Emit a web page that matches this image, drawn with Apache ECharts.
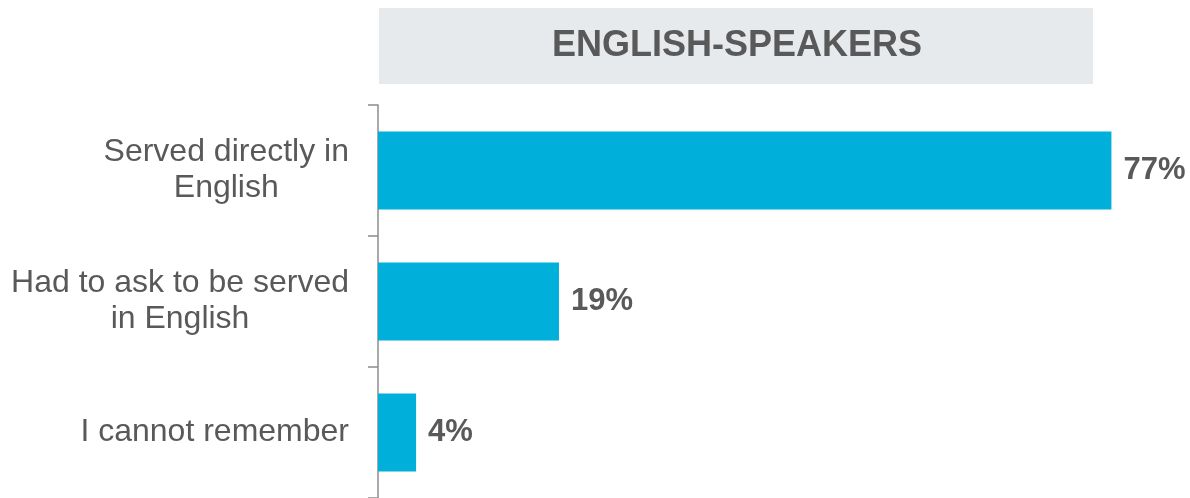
<!DOCTYPE html>
<html>
<head>
<meta charset="utf-8">
<script src="https://cdn.jsdelivr.net/npm/echarts@6/dist/echarts.min.js"></script>
<style>
  html, body { margin: 0; padding: 0; background: #fff; }
  #chart { width: 1190px; height: 498px; }
</style>
</head>
<body>
<div id="chart"></div>
<script>
const TITLE = 'ENGLISH-SPEAKERS';
const categories = ['Served directly in\nEnglish', 'Had to ask to be served\nin English', 'I cannot remember'];
const values = [77, 19, 4];

const FONT = '"Liberation Sans", Arial, sans-serif';
const GREY = '#595959';

const chart = echarts.init(document.getElementById('chart'));

chart.setOption({
  animation: false,
  graphic: [{
    type: 'rect',
    left: 379,
    top: 8,
    shape: { width: 714, height: 76 },
    style: { fill: '#e7eaed' }
  }, {
    type: 'text',
    x: 737,
    y: 46,
    style: {
      text: TITLE,
      fill: GREY,
      font: 'bold 36px ' + FONT,
      align: 'center',
      verticalAlign: 'middle'
    }
  }],
  grid: {
    left: 378,
    top: 105,
    width: 762,
    height: 394
  },
  xAxis: {
    type: 'value',
    min: 0,
    max: 80,
    show: false
  },
  yAxis: {
    type: 'category',
    inverse: true,
    data: categories,
    axisLine: { lineStyle: { color: '#8c8c8c', width: 1.5 } },
    axisTick: { show: true, length: 10, lineStyle: { color: '#8c8c8c', width: 1.5 } },
    axisLabel: {
      margin: 29,
      formatter: (v) => v.split('\n').map(l => '{a|' + l + '}').join('\n'),
      rich: {
        a: {
          align: 'center',
          fontFamily: FONT,
          fontSize: 32,
          lineHeight: 36,
          color: GREY
        }
      }
    }
  },
  series: [{
    type: 'bar',
    data: values,
    barWidth: 78,
    itemStyle: { color: '#00b0da' },
    label: {
      show: true,
      position: 'right',
      distance: 12,
      formatter: '{c}%',
      fontFamily: FONT,
      fontWeight: 'bold',
      fontSize: 31,
      color: GREY
    }
  }]
});
</script>
</body>
</html>
